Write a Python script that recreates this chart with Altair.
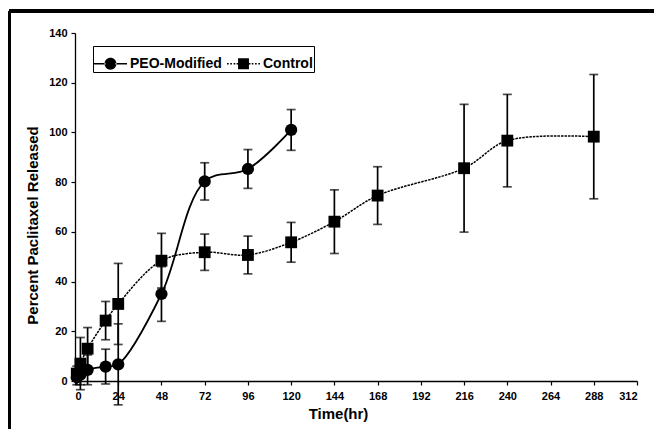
import altair as alt
import pandas as pd

# ---- data ----
series_names = ["PEO-Modified", "Control"]

peo_t = [1, 3, 7, 17, 24, 48, 72, 96, 120]
peo_v = [1.5, 2.5, 4.5, 5.8, 6.7, 35, 80.3, 85.3, 101]
peo_e = [3, 4, 6, 7, 16.3, 11, 7.5, 7.8, 8.2]

ctl_t = [1, 3, 7, 17, 24, 48, 72, 96, 120, 144, 168, 216, 240, 288]
ctl_v = [3, 7, 13, 24.3, 31, 48.4, 51.8, 50.7, 55.8, 64.1, 74.6, 85.6, 96.7, 98.3]
ctl_e = [3, 10.5, 8.5, 7.7, 16.3, 11, 7.3, 7.6, 8, 12.8, 11.6, 25.7, 18.6, 25]

x_ticks = list(range(0, 313, 24))
y_ticks = list(range(0, 141, 20))

rows = []
for t, v, e in zip(peo_t, peo_v, peo_e):
    rows.append({"series": series_names[0], "t": t, "v": v, "lo": v - e, "hi": v + e})
for t, v, e in zip(ctl_t, ctl_v, ctl_e):
    rows.append({"series": series_names[1], "t": t, "v": v, "lo": v - e, "hi": v + e})
df = pd.DataFrame(rows)
df_peo = df[df.series == series_names[0]]
df_ctl = df[df.series == series_names[1]]

FONT = "Liberation Sans"

x_enc = alt.X("t:Q", scale=alt.Scale(domain=[0, 312], nice=False, zero=False),
              axis=alt.Axis(values=x_ticks, title="Time(hr)", titleX=263,
                            titlePadding=5, labelPadding=5))
y_enc = alt.Y("v:Q", scale=alt.Scale(domain=[0, 140], nice=False),
              axis=alt.Axis(values=y_ticks, title="Percent Paclitaxel Released",
                            titleX=-35, titleY=192, labelPadding=4))

# legend glyphs: line + marker, in unit coordinates (lines drawn as thin filled bars)
h = 0.05
circle_path = (f"M-1,-{h}H-0.3V{h}H-1Z M0.3,-{h}H1V{h}H0.3Z "
               "M-0.36,0A0.36,0.36,0,1,0,0.36,0A0.36,0.36,0,1,0,-0.36,0Z")
dots = [(-1.0, -0.9), (-0.8, -0.7), (-0.6, -0.5), (-0.42, -0.33),
        (0.33, 0.42), (0.5, 0.6), (0.7, 0.8), (0.9, 1.0)]
square_path = " ".join(f"M{a},-{h}H{b}V{h}H{a}Z" for a, b in dots) + \
    " M-0.33,-0.33H0.33V0.33H-0.33Z"

peo_line = alt.Chart(df_peo).mark_line(
    interpolate="catmull-rom", color="black", strokeWidth=1.8
).encode(x=x_enc, y=y_enc)

ctl_line = alt.Chart(df_ctl).mark_line(
    interpolate="catmull-rom", color="black", strokeWidth=1.5, strokeDash=[2.5, 1]
).encode(x=x_enc, y=y_enc)

base = alt.Chart(df)
bars = base.mark_rule(color="black", strokeWidth=1.7).encode(
    x=x_enc, y=alt.Y("lo:Q"), y2="hi:Q")
cap_lo = base.mark_tick(color="black", orient="horizontal", size=9, thickness=1.7).encode(
    x=x_enc, y=alt.Y("lo:Q"))
cap_hi = base.mark_tick(color="black", orient="horizontal", size=9, thickness=1.7).encode(
    x=x_enc, y=alt.Y("hi:Q"))

peo_pts = alt.Chart(df_peo).mark_point(shape="circle", filled=True, size=150,
                                       opacity=1, color="black").encode(x=x_enc, y=y_enc)
ctl_pts = alt.Chart(df_ctl).mark_point(shape="square", filled=True, size=140,
                                       opacity=1, color="black").encode(x=x_enc, y=y_enc)

legend_layer = base.mark_point(filled=True, opacity=0, color="black").encode(
    x=x_enc, y=y_enc,
    shape=alt.Shape("series:N",
                    scale=alt.Scale(domain=series_names, range=[circle_path, square_path]),
                    legend=alt.Legend(
                        title=None, orient="none", legendX=18, legendY=13,
                        direction="horizontal", strokeColor="black", padding=1,
                        symbolSize=1089, symbolStrokeWidth=0,
                        symbolFillColor="black", symbolStrokeColor="black",
                        symbolOpacity=1, labelFont=FONT, labelFontSize=14,
                        labelFontWeight="bold", labelColor="black", labelOffset=3,
                        columnPadding=5,
                    )),
)

frame_top = alt.Chart(df).mark_rule(color="black", strokeWidth=3, clip=False).encode(
    x=alt.value(-66), x2=alt.value(800), y=alt.value(-22))
frame_left = alt.Chart(df).mark_rule(color="black", strokeWidth=3, clip=False).encode(
    x=alt.value(-66), y=alt.value(-22), y2=alt.value(600))

chart = alt.layer(frame_top, frame_left, peo_line, ctl_line, bars, cap_lo, cap_hi,
                  peo_pts, ctl_pts, legend_layer).properties(
    width=562, height=348,
    autosize=alt.AutoSizeParams(type="none"),
    padding={"left": 67, "top": 25, "right": 17, "bottom": 48},
    background="white",
).configure_view(stroke=None).configure_axis(
    grid=False, domainColor="black", domainWidth=1.3, tickColor="black", tickSize=4,
    tickWidth=1.2, labelColor="black", labelFont=FONT, labelFontSize=11,
    labelFontWeight="bold", titleColor="black", titleFont=FONT, titleFontWeight="bold",
).configure_axisX(titleFontSize=15).configure_axisY(titleFontSize=15)

chart.save("out.html", embed_options={"renderer": "svg", "actions": False})
